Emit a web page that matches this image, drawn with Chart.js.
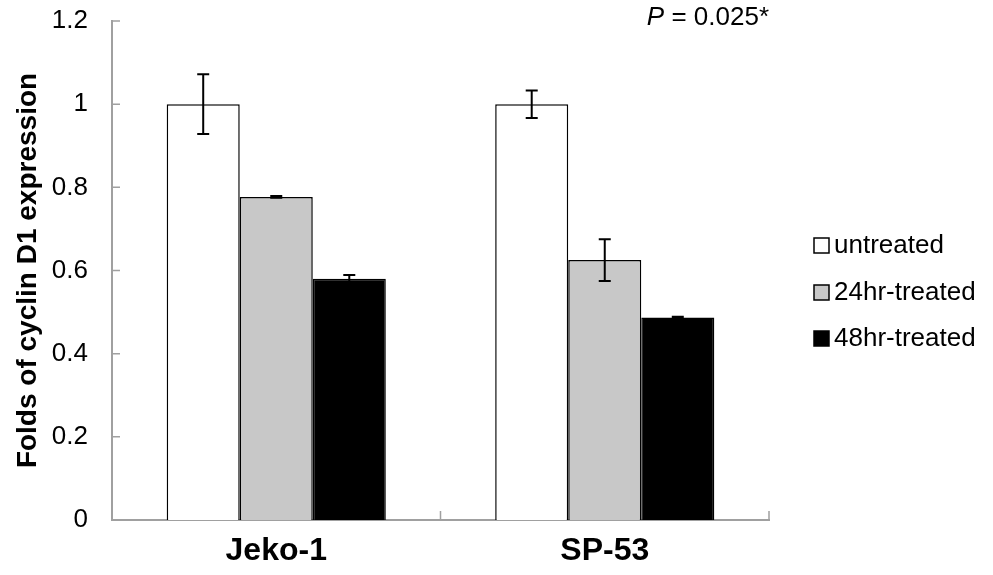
<!DOCTYPE html>
<html>
<head>
<meta charset="utf-8">
<script src="https://cdn.jsdelivr.net/npm/chart.js@4"></script>
<style>
  html, body { margin: 0; padding: 0; background: #fff; }
  #wrap { width: 993px; height: 575px; }
</style>
</head>
<body>
<div id="wrap"><canvas id="myChart" width="993" height="575"></canvas></div>
<script>
// data
const cellLines = ['Jeko-1', 'SP-53'];
const seriesNames = ['untreated', '24hr-treated', '48hr-treated'];
const untreated = [1.0, 1.0];
const treated24 = [0.777, 0.625];
const treated48 = [0.58, 0.487];
const errUntreated = [0.072, 0.033];
const err24 = [0.002, 0.05];
const err48 = [0.009, 0.002];
const yTicks = [0, 0.2, 0.4, 0.6, 0.8, 1, 1.2];

const fillColors = ['#ffffff', '#c8c8c8', '#000000'];
const errors = [errUntreated, err24, err48];
const font = "'Liberation Sans', Arial, sans-serif";

const ctx = document.getElementById('myChart');

// small tick marks drawn on the inside of the axes
const innerTicks = {
  id: 'innerTicks',
  afterDraw(chart) {
    const c = chart.ctx;
    const x = chart.scales.x;
    const y = chart.scales.y;
    c.save();
    c.strokeStyle = '#a0a0a0';
    c.lineWidth = 1.5;
    c.beginPath();
    yTicks.forEach(v => {
      const py = y.getPixelForValue(v);
      c.moveTo(x.left, py);
      c.lineTo(x.left + 8, py);
    });
    for (let i = 1; i <= cellLines.length; i++) {
      const px = x.getPixelForValue(i - 0.5);
      c.moveTo(px, y.bottom);
      c.lineTo(px, y.bottom - 9);
    }
    c.stroke();
    c.restore();
  }
};

// error bars from the series errors
const errorBars = {
  id: 'errorBars',
  afterDatasetsDraw(chart) {
    const c = chart.ctx;
    const y = chart.scales.y;
    c.save();
    c.lineWidth = 2;
    chart.data.datasets.forEach((ds, i) => {
      const meta = chart.getDatasetMeta(i);
      c.strokeStyle = '#000';
      meta.data.forEach((bar, j) => {
        const v = ds.data[j];
        const e = errors[i][j];
        const top = y.getPixelForValue(v + e);
        const bot = y.getPixelForValue(v - e);
        c.beginPath();
        c.moveTo(bar.x, top); c.lineTo(bar.x, bot);
        c.moveTo(bar.x - 6, top); c.lineTo(bar.x + 6, top);
        c.moveTo(bar.x - 6, bot); c.lineTo(bar.x + 6, bot);
        c.stroke();
      });
    });
    c.restore();
  }
};

// legend on the right and the P value text
const sideText = {
  id: 'sideText',
  afterDraw(chart) {
    const c = chart.ctx;
    c.save();
    const legendY = [246, 293, 339];
    seriesNames.forEach((name, i) => {
      c.fillStyle = fillColors[i];
      c.fillRect(814, legendY[i] - 8, 15, 15);
      c.strokeStyle = '#000';
      c.lineWidth = 1.5;
      c.strokeRect(814, legendY[i] - 8, 15, 15);
      c.fillStyle = '#000';
      c.font = '26px ' + font;
      c.textBaseline = 'middle';
      c.textAlign = 'left';
      c.fillText(name, 834, legendY[i]);
    });
    // P = 0.025*
    const right = chart.chartArea.right;
    c.font = '26px ' + font;
    const rest = ' = 0.025*';
    const wRest = c.measureText(rest).width;
    c.textBaseline = 'middle';
    c.textAlign = 'left';
    c.fillText(rest, right - wRest, 18);
    c.font = 'italic 26px ' + font;
    const wP = c.measureText('P').width;
    c.fillText('P', right - wRest - wP, 18);
    c.restore();
  }
};

new Chart(ctx, {
  type: 'bar',
  data: {
    labels: cellLines,
    datasets: [
      { label: seriesNames[0], data: untreated, backgroundColor: fillColors[0], borderColor: '#000', borderWidth: 1.5 },
      { label: seriesNames[1], data: treated24, backgroundColor: fillColors[1], borderColor: '#000', borderWidth: 1.5 },
      { label: seriesNames[2], data: treated48, backgroundColor: fillColors[2], borderColor: '#000', borderWidth: 1.5 }
    ]
  },
  options: {
    responsive: false,
    animation: false,
    devicePixelRatio: 1,
    layout: { padding: { top: 21, right: 224, left: 0, bottom: 0 } },
    datasets: { bar: { categoryPercentage: 0.667, barPercentage: 1.0 } },
    plugins: {
      legend: { display: false },
      tooltip: { enabled: false }
    },
    scales: {
      x: {
        grid: { display: false },
        border: { color: '#a0a0a0', width: 2 },
        ticks: { color: '#000', font: { family: font, size: 32, weight: 'bold' }, padding: 4 },
        afterFit(scale) { scale.height = 55; }
      },
      y: {
        min: 0,
        max: 1.2,
        afterBuildTicks(scale) { scale.ticks = yTicks.map(v => ({ value: v })); },
        grid: { display: false },
        border: { color: '#a0a0a0', width: 2 },
        ticks: {
          color: '#000',
          font: { family: font, size: 26 },
          padding: 16,
          callback: v => String(Number(v.toFixed(1)))
        },
        title: {
          display: true,
          text: 'Folds of cyclin D1 expression',
          color: '#000',
          font: { family: font, size: 28, weight: 'bold' },
          padding: { top: 11, bottom: 0 }
        },
        afterFit(scale) {
          scale.width = 112;
          scale.paddingTop = 0;
          scale.paddingBottom = 0;
        }
      }
    }
  },
  plugins: [innerTicks, errorBars, sideText]
});
</script>
</body>
</html>
